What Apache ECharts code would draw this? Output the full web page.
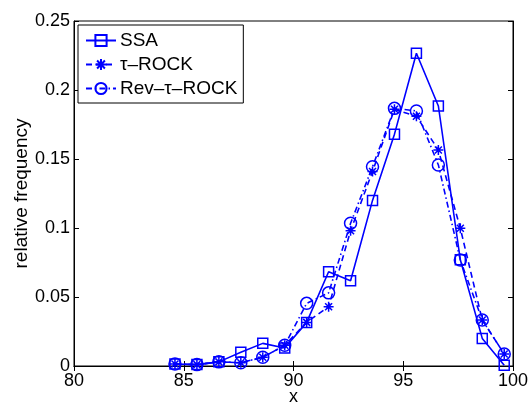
<!DOCTYPE html>
<html><head><meta charset="utf-8">
<script src="https://cdn.jsdelivr.net/npm/echarts@6/dist/echarts.min.js"></script>
<style>html,body{margin:0;padding:0;background:#fff;overflow:hidden}#c{width:530px;height:405px}</style>
</head><body><div id="c"></div>
<script>
const xValues = [84.6,85.6,86.6,87.6,88.6,89.6,90.6,91.6,92.6,93.6,94.6,95.6,96.6,97.6,98.6,99.6];
const ssaValues = [0.0014,0.001,0.003,0.0099,0.0164,0.013,0.0316,0.0683,0.0618,0.120,0.168,0.2266,0.1884,0.077,0.020,0.0005];
const tauValues = [0.0014,0.001,0.003,0.0024,0.0063,0.015,0.0316,0.043,0.098,0.141,0.186,0.181,0.1565,0.0998,0.0333,0.0087];
const revValues = [0.0014,0.001,0.003,0.0024,0.0063,0.015,0.0454,0.053,0.1034,0.1444,0.1867,0.1848,0.1457,0.0768,0.0333,0.0087];
const seriesNames = ['SSA','τ–ROCK','Rev–τ–ROCK'];
const xTicks = [80,85,90,95,100];
const yTicks = [0,0.05,0.1,0.15,0.2,0.25];

const FONT = 'Liberation Sans, Arial, Helvetica, sans-serif';
const BLUE = '#0000ff';
const star = 'path://M0,-1L0,1M-1,0L1,0M-0.7,-0.7L0.7,0.7M-0.7,0.7L0.7,-0.7';
const pairs = v => xValues.map((x,i)=>[x,v[i]]);

function mk(name, vals, sym, size, ltype){
  return {
    name, type:'line', data: pairs(vals), symbol: sym, symbolSize: size,
    showAllSymbol:true, animation:false,
    lineStyle:{color:BLUE,width:1.6,type:ltype},
    itemStyle:{color:'rgba(0,0,0,0)',borderColor:BLUE,borderWidth:1.5}
  };
}

const el = document.getElementById('c');
const chart = echarts.init(el);
chart.setOption({
  backgroundColor:'#fff',
  animation:false,
  grid:{left:74,top:21,right:17,bottom:39,show:true,borderColor:'#000',borderWidth:1,
        containLabel:false, outerBoundsMode:'none'},
  legend:{
    left:78, top:25, orient:'vertical', data:seriesNames,
    backgroundColor:'#fff', borderColor:'#000', borderWidth:1,
    padding:[6,6,5,7], itemGap:5, itemWidth:30, itemHeight:14,
    textStyle:{fontFamily:FONT,fontSize:19,color:'#000',padding:[0,0,0,-1]}
  },
  xAxis:[{
    type:'value', min:xTicks[0], max:xTicks[xTicks.length-1], interval:5,
    axisLine:{lineStyle:{color:'#000'}},
    axisTick:{inside:true,length:5,lineStyle:{color:'#000'}},
    axisLabel:{fontFamily:FONT,fontSize:18,color:'#000',margin:6},
    splitLine:{show:false},
    name:'x', nameLocation:'middle', nameGap:22, nameMoveOverlap:false,
    nameTextStyle:{fontFamily:FONT,fontSize:18,color:'#000'}
  },{
    type:'value', position:'top', min:xTicks[0], max:xTicks[xTicks.length-1], interval:5,
    axisLine:{lineStyle:{color:'#000'}},
    axisTick:{inside:true,length:5,lineStyle:{color:'#000'}},
    axisLabel:{show:false}, splitLine:{show:false}
  }],
  yAxis:[{
    type:'value', min:yTicks[0], max:yTicks[yTicks.length-1], interval:0.05,
    axisLine:{show:true,lineStyle:{color:'#000'}},
    axisTick:{show:true,inside:true,length:5,lineStyle:{color:'#000'}},
    axisLabel:{fontFamily:FONT,fontSize:18,color:'#000',margin:4},
    splitLine:{show:false},
    name:'relative frequency', nameLocation:'middle', nameGap:43, nameMoveOverlap:false,
    nameTextStyle:{fontFamily:FONT,fontSize:19,color:'#000'}
  },{
    type:'value', position:'right', min:yTicks[0], max:yTicks[yTicks.length-1], interval:0.05,
    axisLine:{show:true,lineStyle:{color:'#000'}},
    axisTick:{show:true,inside:true,length:5,lineStyle:{color:'#000'}},
    axisLabel:{show:false}, splitLine:{show:false}
  }],
  series:[
    mk(seriesNames[0], ssaValues, 'rect', 10, 'solid'),
    mk(seriesNames[1], tauValues, star, 10, [6,4]),
    mk(seriesNames[2], revValues, 'circle', 12, [6,3,1.5,3])
  ]
});
</script></body></html>
